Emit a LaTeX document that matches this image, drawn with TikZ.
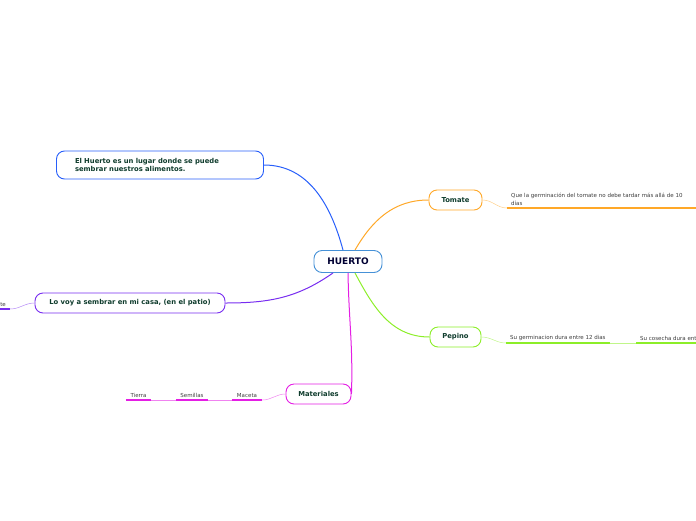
\documentclass[tikz,border=0pt]{standalone}
\usepackage{fontspec}
\setmainfont{DejaVu Sans}
\usetikzlibrary{positioning}

\definecolor{rootblue}{RGB}{70,145,215}
\definecolor{infoblue}{RGB}{40,95,250}
\definecolor{tomorange}{RGB}{255,168,40}
\definecolor{pepgreen}{RGB}{140,238,40}
\definecolor{matmagenta}{RGB}{228,30,228}
\definecolor{casapurple}{RGB}{120,45,240}
\definecolor{topictext}{RGB}{15,60,45}
\definecolor{leaftext}{RGB}{60,60,60}

\begin{document}
\begin{tikzpicture}[
  x=1pt,y=-1pt,
  topic/.style={draw,line width=0.9pt,rounded corners=8pt,fill=white,inner sep=0pt,
    minimum height=20pt,text=topictext,font=\bfseries\fontsize{6.8}{8.6}\selectfont},
  leaf/.style={inner xsep=4pt,inner ysep=2pt,text=leaftext,align=left,
    font=\fontsize{5.5}{7.8}\selectfont},
  branch/.style={line width=1pt},
  twig/.style={line width=0.5pt},
  uline/.style={line width=1.3pt}
]
  \useasboundingbox (0,0) rectangle (696,520);

  % central topic
  \node[topic,draw=rootblue,minimum width=68pt,minimum height=22pt,text=black!80!blue,
    font=\bfseries\fontsize{9}{10}\selectfont] (huerto) at (348,261.5) {HUERTO};

  % main topics
  \node[topic,draw=infoblue,minimum width=207pt,minimum height=28pt,text width=170pt,align=left]
    (lugar) at (160,165) {El Huerto es un lugar donde se puede\\sembrar nuestros alimentos.};
  \node[topic,draw=tomorange,minimum width=53pt] (tomate) at (455.5,200) {Tomate};
  \node[topic,draw=pepgreen,minimum width=51pt] (pepino) at (455.5,337) {Pepino};
  \node[topic,draw=matmagenta,minimum width=65pt] (materiales) at (318.5,394) {Materiales};
  \node[topic,draw=casapurple,minimum width=190pt] (casa) at (130,303) {Lo voy a sembrar en mi casa, (en el patio)};

  \draw[branch,infoblue] (huerto.north)++(-5,0) coordinate (h1) to[out=105,in=0] (lugar.east);
  \draw[branch,tomorange] (huerto.north)++(7,0) coordinate (h2) to[out=60,in=180] (tomate.west);
  \draw[branch,pepgreen] (huerto.south)++(7,0) coordinate (h3) to[out=-62,in=180] (pepino.west);
  \draw[branch,matmagenta] (huerto.south) to[out=-89,in=88] (materiales.east);
  \draw[branch,casapurple] (huerto.south)++(-15,0) coordinate (h4) to[out=-145,in=0] (casa.east);

  % leaves: tomate
  \node[leaf,anchor=south west,text width=182pt] (germtom) at (507,208)
    {Que la germinación del tomate no debe tardar más allá de 10\\días};
  \coordinate (germtomend) at (696,208);
  \draw[uline,tomorange] (germtom.south west) -- (germtomend);
  \draw[twig,tomorange!55] (tomate.east) to[out=0,in=180] (germtom.south west);

  % leaves: pepino
  \node[leaf,anchor=south west] (germpep) at (506,343) {Su germinacion dura entre 12 dias};
  \node[leaf,anchor=south west] (cosecha) at (636,343) {Su cosecha dura ent};
  \coordinate (cosechaend) at (696,343);
  \draw[uline,pepgreen] (germpep.south west) -- (germpep.south east);
  \draw[uline,pepgreen] (cosecha.south west) -- (cosechaend);
  \draw[twig,pepgreen!55] (pepino.east) to[out=0,in=180] (germpep.south west);
  \draw[twig,pepgreen!55] (germpep.south east) -- (cosecha.south west);

  % leaves: materiales
  \node[leaf,anchor=south,minimum width=30pt] (maceta) at (247,400) {Maceta};
  \node[leaf,anchor=south,minimum width=32pt] (semillas) at (192,400) {Semillas};
  \node[leaf,anchor=south,minimum width=25pt] (tierra) at (138.5,400) {Tierra};
  \foreach \n in {maceta,semillas,tierra}
    \draw[uline,matmagenta] (\n.south west) -- (\n.south east);
  \draw[twig,matmagenta!55] (materiales.west) to[out=180,in=0] (maceta.south east);
  \draw[twig,matmagenta!55] (maceta.south west) -- (semillas.south east);
  \draw[twig,matmagenta!55] (semillas.south west) -- (tierra.south east);

  % leaves: casa
  \node[leaf,anchor=south east] (patio) at (10,309) {te};
  \coordinate (patiostart) at (0,309);
  \draw[uline,casapurple] (patiostart) -- (patio.south east);
  \draw[twig,casapurple!55] (casa.west) to[out=180,in=0] (patio.south east);
\end{tikzpicture}
\end{document}
